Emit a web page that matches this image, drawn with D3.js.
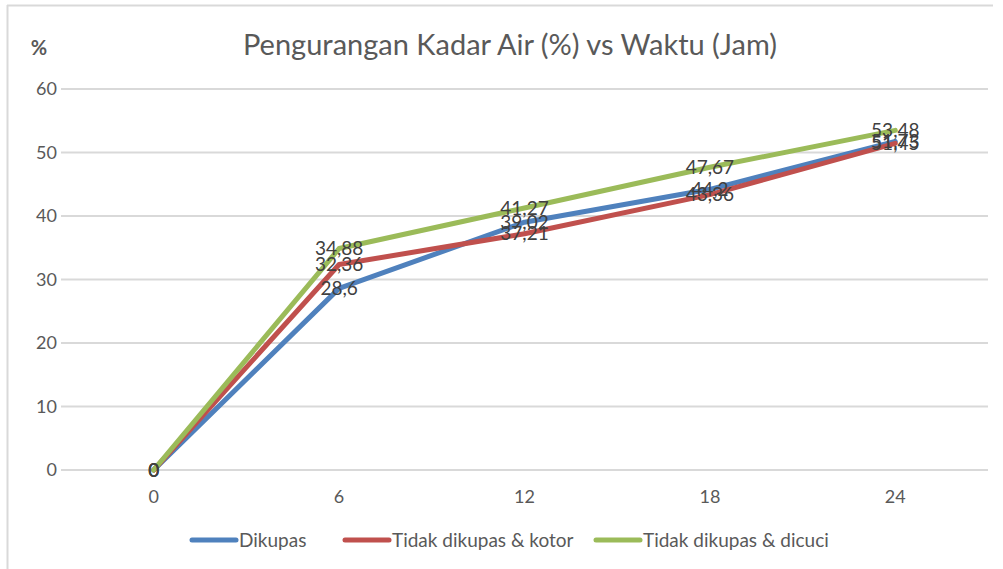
<!DOCTYPE html>
<html>
<head>
<meta charset="utf-8">
<script src="https://cdn.jsdelivr.net/npm/d3@7"></script>
<style>
  body { margin: 0; background: #fff; }
  svg { display: block; font-family: Lato, "Open Sans", sans-serif; }
</style>
</head>
<body>
<svg id="chart" width="1003" height="569"></svg>
<script>
// data
const waktu = [0, 6, 12, 18, 24];
const dikupas = [0, 28.6, 39.02, 44.2, 51.73];
const kotor = [0, 32.36, 37.21, 43.36, 51.45];
const dicuci = [0, 34.88, 41.27, 47.67, 53.48];
const yTicks = [0, 10, 20, 30, 40, 50, 60];

const series = [
    { name: "Dikupas", values: dikupas, color: "#4f81bd" },
    { name: "Tidak dikupas & kotor", values: kotor, color: "#c0504d" },
    { name: "Tidak dikupas & dicuci", values: dicuci, color: "#9bbb59" }
];

const svg = d3.select("#chart");
const plotLeft = 61, plotRight = 988, plotTop = 89, plotBottom = 470;

// chart frame (only top and left edges show)
svg.append("line").attr("x1", 7).attr("x2", 993).attr("y1", 5.5).attr("y2", 5.5)
    .attr("stroke", "#d9d9d9").attr("stroke-width", 2);
svg.append("line").attr("x1", 7.5).attr("x2", 7.5).attr("y1", 5).attr("y2", 569)
    .attr("stroke", "#d9d9d9").attr("stroke-width", 2);

let x = d3.scaleBand().domain(waktu).range([plotLeft, plotRight]);
let y = d3.scaleLinear().domain([0, 60]).range([plotBottom, plotTop]);

// gridlines + y labels
let grid = svg.append("g");
grid.selectAll("line").data(yTicks).enter().append("line")
    .attr("x1", plotLeft).attr("x2", plotRight)
    .attr("y1", d => y(d)).attr("y2", d => y(d))
    .attr("stroke", "#d9d9d9").attr("stroke-width", 2);
grid.selectAll("text").data(yTicks).enter().append("text")
    .attr("x", 57).attr("y", d => y(d)).attr("dy", "0.35em")
    .attr("text-anchor", "end").attr("font-size", 18).attr("fill", "#595959")
    .text(d => d);

// x labels
svg.append("g").selectAll("text").data(waktu).enter().append("text")
    .attr("x", d => x(d) + x.bandwidth() / 2).attr("y", 497).attr("dy", "0.35em")
    .attr("text-anchor", "middle").attr("font-size", 18).attr("fill", "#595959")
    .text(d => d);

// title and unit
svg.append("text").attr("x", 510).attr("y", 45).attr("dy", "0.35em")
    .attr("text-anchor", "middle").attr("font-size", 29).attr("fill", "#595959")
    .text("Pengurangan Kadar Air (%) vs Waktu (Jam)");
svg.append("text").attr("x", 39).attr("y", 48).attr("dy", "0.35em")
    .attr("text-anchor", "middle").attr("font-size", 20).attr("font-weight", "bold").attr("fill", "#595959")
    .text("%");

let line = d3.line()
    .x((d, i) => x(waktu[i]) + x.bandwidth() / 2)
    .y(d => y(d));

series.forEach(s => {
    svg.append("path").datum(s.values)
        .attr("d", line).attr("fill", "none")
        .attr("stroke", s.color).attr("stroke-width", 5)
        .attr("stroke-linejoin", "round").attr("stroke-linecap", "round");
});

// data labels centered on points
let fmt = v => String(v).replace(".", ",");
series.forEach(s => {
    svg.append("g").selectAll("text").data(s.values).enter().append("text")
        .attr("x", (d, i) => x(waktu[i]) + x.bandwidth() / 2)
        .attr("y", d => y(d)).attr("dy", "0.35em")
        .attr("text-anchor", "middle").attr("font-size", 19).attr("fill", "#404040")
        .text(d => fmt(d));
});

// legend
let legendX = [190, 343, 594];
let legend = svg.append("g").selectAll("g").data(series).enter().append("g")
    .attr("transform", (d, i) => "translate(" + legendX[i] + ",540)");
legend.append("line").attr("x1", 2).attr("x2", 46).attr("y1", 0).attr("y2", 0)
    .attr("stroke", d => d.color).attr("stroke-width", 5).attr("stroke-linecap", "round");
legend.append("text").attr("x", 49).attr("dy", "0.35em")
    .attr("font-size", 19).attr("fill", "#595959").text(d => d.name);
</script>
</body>
</html>
